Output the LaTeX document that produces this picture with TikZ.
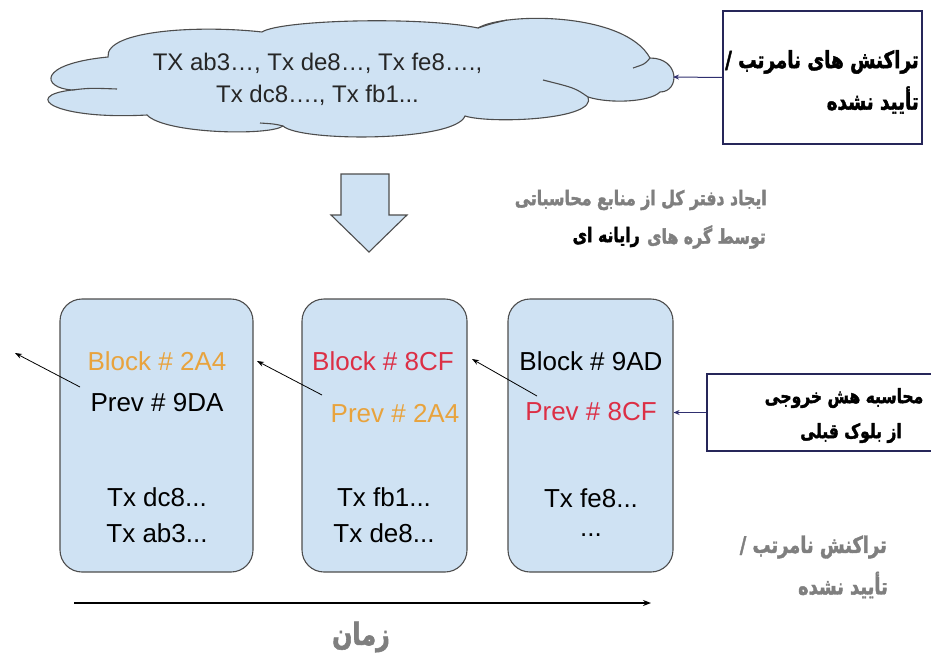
\documentclass[tikz,border=0pt]{standalone}
\usepackage{fontspec}
\setmainfont{Liberation Sans}
\newfontfamily\fa[Script=Arabic, FakeStretch=0.78, BoldFeatures={FakeBold=1.8}]{DejaVu Sans}
\TeXXeTstate=1
\usetikzlibrary{arrows.meta}
\definecolor{cloudblue}{HTML}{CFE2F3}
\definecolor{edgegray}{HTML}{4D4D4D}
\definecolor{navy}{HTML}{2F2F6F}
\definecolor{tgray}{HTML}{7F7F7F}
\definecolor{torange}{HTML}{E8A33D}
\definecolor{tred}{HTML}{DC2F45}
\begin{document}
\begin{tikzpicture}[x=1pt,y=-1pt,
  blockbox/.style={draw=edgegray, fill=cloudblue, rounded corners=22pt, line width=1.1pt, inner sep=0pt},
  lat/.style={font=\fontsize{26}{30}\selectfont, inner sep=0pt},
  fabox/.style={draw=navy!80!black, line width=1.3pt, fill=white, inner sep=0pt},
  fatxt/.style={font=\fa\bfseries\fontsize{#1}{#1}\selectfont, inner sep=0pt},
  barr/.style={line width=0.8pt, -{Stealth[length=7pt,width=5pt]}},
  narr/.style={draw=navy, line width=1pt, -{Stealth[length=6pt,width=5pt]}},
  cloudline/.style={draw=edgegray, line width=1.1pt}
]
\useasboundingbox (0,0) rectangle (931,653);

% cloud
\path[cloudline, fill=cloudblue]
  (72,90) .. controls (42,88) and (36,64) .. (108,57)
  .. controls (105,30) and (200,25) .. (262,32)
  .. controls (280,20) and (420,16) .. (478,28)
  .. controls (505,12) and (625,12) .. (650,58)
  .. controls (680,58) and (680,92) .. (660,92)
  .. controls (650,102) and (610,104) .. (588,97)
  .. controls (598,120) and (490,124) .. (465,116)
  .. controls (455,142) and (300,142) .. (283,126)
  .. controls (270,136) and (165,134) .. (147,115)
  .. controls (55,120) and (20,96) .. (72,90) -- cycle;
\draw[cloudline] (72,90) .. controls (90,88) .. (117,89);
\draw[cloudline] (478,28) .. controls (490,24) .. (507,20);
\draw[cloudline] (650,58) .. controls (645,64) .. (633,68);
\draw[cloudline] (588,97) .. controls (575,88) .. (543,80);
\draw[cloudline] (283,126) .. controls (275,124) .. (260,123);
\coordinate (cloudE) at (673,77);
\node[align=center, font=\fontsize{24}{32}\selectfont, inner sep=0pt, text=black!85] (ctext) at (317.5,79)
  {TX ab3…, Tx de8…, Tx fe8….,\\Tx dc8…., Tx fb1...};

% top right box
\node[fabox, minimum width=199pt, minimum height=133pt] (rb1) at (822.5,77.5) {};
\node[fatxt=23.5, anchor=east] (rb1a) at (919,62) {\beginR تراکنش های نامرتب /\endR};
\node[fatxt=23.5, anchor=east] (rb1b) at (919,100) {\beginR تأیید نشده\endR};
\draw[narr] (rb1.west) -- (cloudE);

% big down arrow
\draw[draw=edgegray, fill=cloudblue, line width=1.1pt]
  (341,174) -- (389,174) -- (389,215) -- (407,215) -- (369,252) -- (331,215) -- (341,215) -- cycle;

% middle text
\node[fatxt=20.2, anchor=east, text=tgray] (m1) at (767,200) {\beginR ایجاد دفتر کل از منابع محاسباتی\endR};
\node[fatxt=20.2, anchor=east, text=tgray] (m2) at (766,237) {\beginR توسط گره های\endR};
\node[fatxt=20.2, anchor=east, text=black] (m3) at ([xshift=-7pt]m2.west) {\beginR رایانه ای\endR};

% blocks
\node[blockbox, minimum width=193pt, minimum height=273pt] (b1) at (156.5,435.5) {};
\node[blockbox, minimum width=165pt, minimum height=273pt] (b2) at (384.5,435.5) {};
\node[blockbox, minimum width=165pt, minimum height=273pt] (b3) at (590.5,435.5) {};

\node[lat, text=torange] (h1) at (157,361) {Block \# 2A4};
\node[lat] (p1) at (157,403) {Prev \# 9DA};
\node[lat] (t1a) at (157,497) {Tx dc8...};
\node[lat] (t1b) at (157,533) {Tx ab3...};

\node[lat, text=tred] (h2) at (383,361) {Block \# 8CF};
\node[lat, text=torange] (p2) at (395,414) {Prev \# 2A4};
\node[lat] (t2a) at (384,497) {Tx fb1...};
\node[lat] (t2b) at (384,533) {Tx de8...};

\node[lat] (h3) at (591,361) {Block \# 9AD};
\node[lat, text=tred] (p3) at (591,412) {Prev \# 8CF};
\node[lat] (t3a) at (591,498) {Tx fe8...};
\node[lat] (t3b) at (591,535) {...};

% chain arrows
\coordinate (s1) at (80,387); \coordinate (e1) at (15,353);
\coordinate (s2) at (322,395); \coordinate (e2) at (257,361);
\coordinate (s3) at (537,396); \coordinate (e3) at (472,359);
\draw[barr] (s1) -- (e1);
\draw[barr] (s2) -- (e2);
\draw[barr] (s3) -- (e3);

% right middle box
\node[fabox, minimum width=228pt, minimum height=77pt] (rb2) at (821,412.5) {};
\node[fatxt=19.9] (rb2a) at (844,398) {\beginR محاسبه هش  خروجی\endR};
\node[fatxt=19.9] (rb2b) at (851,433) {\beginR از بلوک قبلی\endR};
\draw[narr] (rb2.west) -- (rb2.west -| b3.east);

% bottom right gray text
\node[fatxt=22.9, anchor=east, text=tgray] (g1) at (887,547) {\beginR تراکنش نامرتب /\endR};
\node[fatxt=22.9, anchor=east, text=tgray] (g2) at (888,585) {\beginR تأیید نشده\endR};

% time axis
\coordinate (ta) at (74,603); \coordinate (tb) at (651,603);
\draw[line width=1.1pt, -{Stealth[length=8pt,width=6pt]}] (ta) -- (tb);
\node[fatxt=30.5, text=tgray] (zaman) at (361,637) {\beginR زمان\endR};
\end{tikzpicture}
\end{document}
